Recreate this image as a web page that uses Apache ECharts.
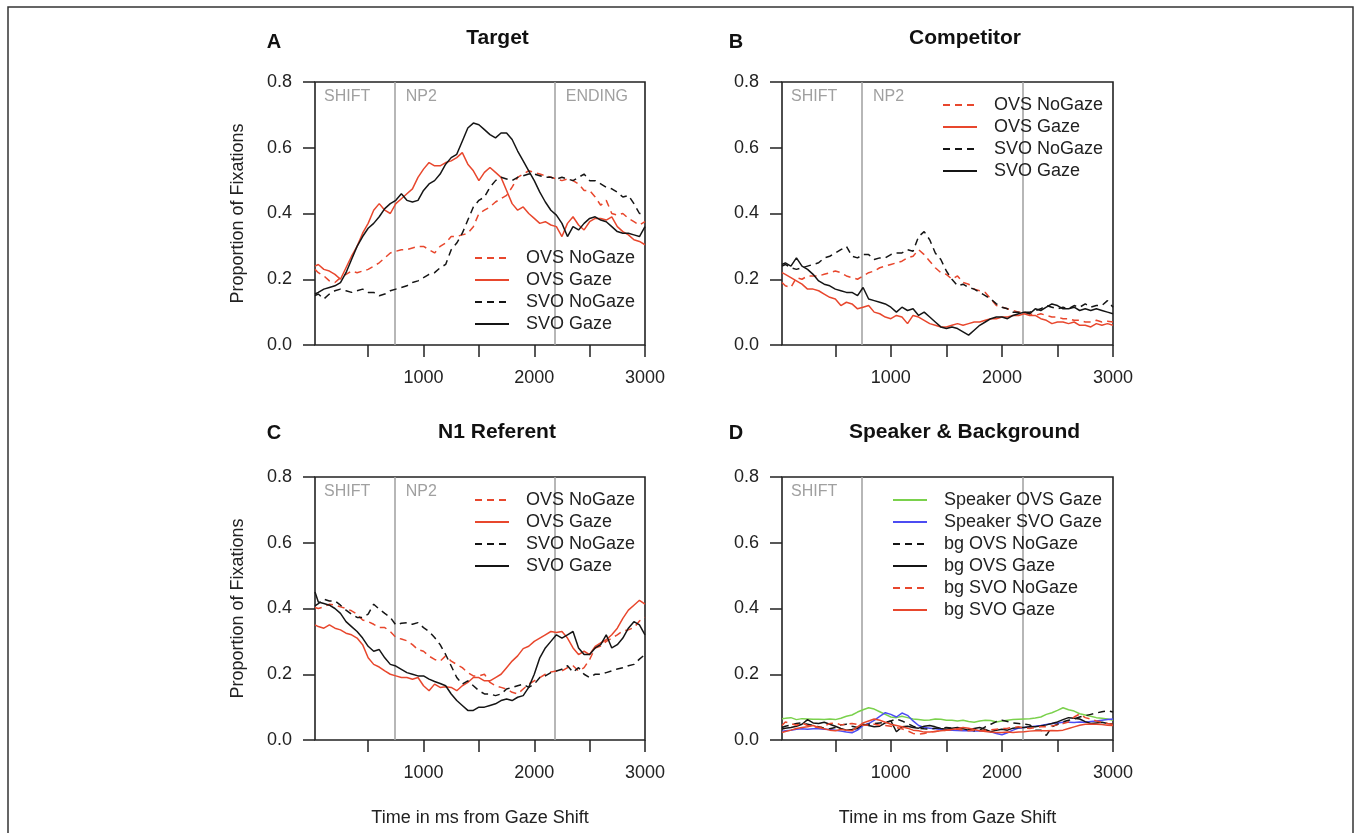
<!DOCTYPE html>
<html><head><meta charset="utf-8">
<script src="https://cdn.jsdelivr.net/npm/echarts@6/dist/echarts.min.js"></script>
<style>html,body{margin:0;padding:0;background:#fff}#c{width:1356px;height:833px}</style>
</head><body><div id="c"></div><script>
// ---- data ----
const times = [20,50,100,150,200,250,300,350,400,450,500,550,600,650,700,750,800,850,900,950,1000,1050,1100,1150,1200,1250,1300,1350,1400,1450,1500,1550,1600,1650,1700,1750,1800,1850,1900,1950,2000,2050,2100,2150,2200,2250,2300,2350,2400,2450,2500,2550,2600,2650,2700,2750,2800,2850,2900,2950,3000];

// Panel A: Target
const A_ovsNoGaze = [0.23,0.22,0.21,0.195,0.19,0.205,0.215,0.225,0.22,0.225,0.23,0.24,0.25,0.265,0.28,0.285,0.29,0.29,0.295,0.30,0.30,0.29,0.28,0.30,0.31,0.33,0.33,0.335,0.34,0.36,0.40,0.41,0.42,0.435,0.445,0.455,0.48,0.51,0.52,0.53,0.525,0.52,0.515,0.51,0.505,0.50,0.505,0.50,0.49,0.47,0.47,0.45,0.425,0.44,0.40,0.395,0.40,0.385,0.375,0.365,0.375];
const A_ovsGaze = [0.24,0.245,0.23,0.225,0.215,0.2,0.235,0.27,0.3,0.34,0.37,0.41,0.43,0.41,0.40,0.43,0.445,0.46,0.475,0.51,0.535,0.555,0.545,0.545,0.555,0.56,0.57,0.585,0.55,0.53,0.50,0.525,0.54,0.525,0.51,0.47,0.43,0.41,0.42,0.40,0.385,0.37,0.375,0.365,0.36,0.33,0.37,0.39,0.365,0.35,0.375,0.385,0.385,0.38,0.39,0.36,0.345,0.335,0.32,0.315,0.305];
const A_svoNoGaze = [0.15,0.155,0.14,0.155,0.165,0.17,0.165,0.16,0.165,0.17,0.16,0.16,0.15,0.155,0.165,0.17,0.175,0.18,0.19,0.195,0.205,0.215,0.22,0.235,0.245,0.29,0.31,0.34,0.38,0.42,0.44,0.45,0.48,0.50,0.51,0.505,0.50,0.51,0.515,0.52,0.52,0.515,0.51,0.51,0.505,0.51,0.505,0.50,0.51,0.52,0.50,0.50,0.49,0.48,0.475,0.465,0.45,0.455,0.43,0.40,0.40];
const A_svoGaze = [0.155,0.16,0.17,0.175,0.18,0.19,0.22,0.26,0.30,0.33,0.355,0.37,0.39,0.415,0.43,0.44,0.46,0.44,0.435,0.44,0.47,0.49,0.50,0.52,0.55,0.57,0.58,0.62,0.66,0.675,0.67,0.655,0.64,0.63,0.645,0.645,0.625,0.59,0.56,0.53,0.50,0.465,0.435,0.41,0.395,0.37,0.33,0.36,0.35,0.37,0.385,0.39,0.38,0.375,0.36,0.345,0.34,0.34,0.335,0.33,0.36];

// Panel B: Competitor
const B_ovsNoGaze = [0.19,0.18,0.175,0.205,0.2,0.21,0.21,0.21,0.215,0.22,0.225,0.22,0.21,0.205,0.2,0.21,0.22,0.225,0.235,0.24,0.245,0.25,0.255,0.265,0.27,0.29,0.275,0.255,0.235,0.22,0.215,0.2,0.21,0.19,0.185,0.17,0.165,0.16,0.14,0.12,0.115,0.11,0.105,0.1,0.1,0.095,0.09,0.095,0.09,0.085,0.085,0.08,0.08,0.075,0.075,0.07,0.07,0.075,0.07,0.072,0.07];
const B_ovsGaze = [0.22,0.215,0.205,0.195,0.185,0.17,0.17,0.165,0.155,0.145,0.14,0.12,0.13,0.125,0.11,0.115,0.12,0.1,0.095,0.085,0.08,0.09,0.085,0.065,0.09,0.085,0.075,0.065,0.06,0.055,0.055,0.06,0.065,0.06,0.065,0.07,0.07,0.075,0.08,0.08,0.085,0.085,0.09,0.09,0.095,0.09,0.09,0.08,0.075,0.065,0.07,0.07,0.065,0.07,0.06,0.06,0.055,0.065,0.06,0.065,0.06];
const B_svoNoGaze = [0.24,0.245,0.235,0.23,0.235,0.24,0.245,0.25,0.265,0.27,0.28,0.29,0.3,0.27,0.265,0.275,0.275,0.26,0.265,0.265,0.275,0.28,0.28,0.29,0.285,0.33,0.345,0.32,0.28,0.26,0.225,0.2,0.18,0.185,0.175,0.17,0.16,0.15,0.14,0.125,0.115,0.11,0.1,0.1,0.1,0.1,0.105,0.11,0.12,0.115,0.11,0.115,0.11,0.12,0.115,0.125,0.115,0.12,0.12,0.135,0.115];
const B_svoGaze = [0.245,0.25,0.24,0.265,0.24,0.23,0.215,0.195,0.185,0.18,0.17,0.165,0.16,0.16,0.15,0.175,0.14,0.135,0.13,0.125,0.115,0.1,0.115,0.105,0.11,0.09,0.1,0.085,0.07,0.055,0.05,0.055,0.05,0.04,0.03,0.045,0.06,0.07,0.08,0.085,0.085,0.08,0.09,0.095,0.1,0.095,0.11,0.105,0.115,0.125,0.12,0.11,0.11,0.115,0.105,0.11,0.105,0.11,0.105,0.1,0.095];

// Panel C: N1 Referent
const C_ovsNoGaze = [0.403,0.40,0.405,0.413,0.41,0.405,0.40,0.393,0.383,0.365,0.36,0.352,0.342,0.342,0.33,0.312,0.307,0.302,0.29,0.275,0.27,0.255,0.245,0.24,0.256,0.24,0.23,0.22,0.205,0.195,0.195,0.2,0.175,0.165,0.16,0.155,0.145,0.14,0.155,0.17,0.18,0.19,0.2,0.207,0.21,0.21,0.22,0.226,0.21,0.22,0.245,0.28,0.286,0.3,0.31,0.32,0.332,0.335,0.342,0.362,0.373];
const C_ovsGaze = [0.35,0.345,0.34,0.35,0.34,0.335,0.325,0.32,0.31,0.29,0.25,0.23,0.222,0.21,0.2,0.195,0.19,0.19,0.185,0.19,0.165,0.15,0.17,0.16,0.162,0.16,0.15,0.165,0.175,0.19,0.19,0.18,0.18,0.19,0.2,0.22,0.24,0.256,0.278,0.285,0.3,0.31,0.32,0.33,0.327,0.33,0.31,0.28,0.26,0.27,0.26,0.285,0.295,0.305,0.32,0.34,0.37,0.395,0.41,0.425,0.413];
const C_svoNoGaze = [0.408,0.415,0.428,0.423,0.423,0.41,0.395,0.383,0.373,0.373,0.383,0.413,0.398,0.385,0.373,0.35,0.355,0.357,0.352,0.357,0.342,0.33,0.312,0.29,0.26,0.225,0.19,0.17,0.18,0.165,0.15,0.14,0.14,0.135,0.14,0.155,0.16,0.165,0.17,0.16,0.17,0.19,0.195,0.205,0.21,0.215,0.226,0.206,0.22,0.2,0.19,0.2,0.2,0.205,0.21,0.216,0.22,0.226,0.23,0.246,0.26];
const C_svoGaze = [0.45,0.42,0.415,0.41,0.40,0.385,0.36,0.345,0.33,0.31,0.285,0.27,0.275,0.25,0.23,0.225,0.215,0.205,0.2,0.195,0.195,0.185,0.178,0.172,0.165,0.14,0.12,0.105,0.09,0.09,0.1,0.1,0.105,0.11,0.12,0.125,0.12,0.13,0.135,0.16,0.2,0.25,0.28,0.30,0.32,0.31,0.32,0.33,0.28,0.26,0.26,0.28,0.29,0.32,0.28,0.29,0.31,0.34,0.36,0.35,0.32];

// Panel D: Speaker & Background
const D_spkOvsGaze = [0.065,0.066,0.068,0.062,0.065,0.064,0.063,0.063,0.062,0.064,0.062,0.066,0.072,0.076,0.085,0.092,0.098,0.094,0.086,0.078,0.07,0.068,0.072,0.068,0.064,0.062,0.06,0.061,0.064,0.063,0.06,0.06,0.058,0.06,0.056,0.054,0.058,0.06,0.059,0.055,0.058,0.06,0.062,0.063,0.064,0.065,0.067,0.07,0.078,0.083,0.09,0.098,0.092,0.088,0.08,0.076,0.072,0.068,0.066,0.064,0.06];
const D_spkSvoGaze = [0.026,0.028,0.03,0.033,0.034,0.033,0.034,0.034,0.033,0.032,0.03,0.027,0.024,0.022,0.03,0.044,0.05,0.06,0.072,0.083,0.078,0.07,0.082,0.075,0.058,0.044,0.038,0.036,0.034,0.032,0.03,0.03,0.029,0.028,0.028,0.027,0.028,0.027,0.025,0.02,0.016,0.022,0.03,0.036,0.038,0.04,0.042,0.044,0.047,0.05,0.052,0.054,0.054,0.053,0.055,0.054,0.056,0.058,0.06,0.062,0.064];
const D_bgOvsNoGaze = [0.038,0.042,0.046,0.05,0.052,0.048,0.044,0.04,0.036,0.034,0.038,0.046,0.048,0.042,0.038,0.045,0.048,0.05,0.052,0.054,0.058,0.064,0.058,0.05,0.042,0.036,0.034,0.033,0.036,0.037,0.038,0.036,0.034,0.035,0.033,0.028,0.03,0.04,0.048,0.056,0.06,0.056,0.052,0.05,0.048,0.046,0.03,0.03,0.014,0.04,0.048,0.055,0.06,0.064,0.07,0.074,0.078,0.082,0.086,0.089,0.085];
const D_bgOvsGaze = [0.033,0.036,0.038,0.042,0.048,0.062,0.052,0.05,0.054,0.048,0.042,0.035,0.03,0.032,0.035,0.048,0.044,0.04,0.042,0.052,0.058,0.025,0.04,0.042,0.038,0.036,0.042,0.044,0.04,0.035,0.033,0.036,0.038,0.034,0.03,0.035,0.038,0.032,0.025,0.03,0.033,0.03,0.036,0.038,0.038,0.04,0.04,0.043,0.046,0.05,0.055,0.062,0.068,0.066,0.064,0.056,0.05,0.052,0.054,0.05,0.049];
const D_bgSvoNoGaze = [0.044,0.055,0.05,0.045,0.052,0.044,0.04,0.038,0.042,0.05,0.052,0.046,0.048,0.05,0.047,0.045,0.046,0.048,0.045,0.044,0.042,0.038,0.034,0.028,0.02,0.018,0.02,0.024,0.026,0.028,0.03,0.032,0.033,0.03,0.028,0.03,0.028,0.03,0.031,0.033,0.035,0.036,0.038,0.04,0.036,0.035,0.038,0.04,0.04,0.043,0.046,0.05,0.055,0.07,0.079,0.068,0.064,0.058,0.054,0.05,0.048];
const D_bgSvoGaze = [0.023,0.026,0.03,0.035,0.038,0.04,0.044,0.038,0.034,0.03,0.028,0.032,0.03,0.028,0.04,0.052,0.058,0.064,0.06,0.054,0.048,0.044,0.04,0.036,0.03,0.028,0.024,0.024,0.026,0.028,0.03,0.032,0.034,0.038,0.036,0.032,0.028,0.026,0.024,0.023,0.023,0.024,0.023,0.024,0.025,0.027,0.028,0.028,0.028,0.029,0.028,0.03,0.035,0.04,0.045,0.048,0.049,0.048,0.047,0.045,0.044];

const phaseBounds = [740, 2185];
const phaseStarts = [20, 740, 2185];
const phaseNames = ['SHIFT', 'NP2', 'ENDING'];
const xTicks = [500, 1000, 1500, 2000, 2500, 3000];
const xTickLabels = [1000, 2000, 3000];
const panelTitles = ['Target', 'Competitor', 'N1 Referent', 'Speaker & Background'];
const panelLetters = ['A', 'B', 'C', 'D'];
const yName = 'Proportion of Fixations';
const xName = 'Time in ms from Gaze Shift';

// ---- styling ----
const FONT = "'Liberation Sans', Arial, Helvetica, sans-serif";
const RED = '#e8472d', BLACK = '#151515', GREEN = '#7ad14c', BLUE = '#4c4cf2', GRAY = '#a5a5a5', INK = '#222';
const DASH = [7, 5];

const panels = [
  { grid: {left: 315, top: 82, width: 330, height: 263}, legend: {left: 474, top: 249}, nPhase: 3,
    series: [['OVS NoGaze', A_ovsNoGaze, RED, true], ['OVS Gaze', A_ovsGaze, RED, false], ['SVO NoGaze', A_svoNoGaze, BLACK, true], ['SVO Gaze', A_svoGaze, BLACK, false]] },
  { grid: {left: 782, top: 82, width: 331, height: 263}, legend: {left: 942, top: 96}, nPhase: 2,
    series: [['OVS NoGaze', B_ovsNoGaze, RED, true], ['OVS Gaze', B_ovsGaze, RED, false], ['SVO NoGaze', B_svoNoGaze, BLACK, true], ['SVO Gaze', B_svoGaze, BLACK, false]] },
  { grid: {left: 315, top: 477, width: 330, height: 263}, legend: {left: 474, top: 491}, nPhase: 2,
    series: [['OVS NoGaze', C_ovsNoGaze, RED, true], ['OVS Gaze', C_ovsGaze, RED, false], ['SVO NoGaze', C_svoNoGaze, BLACK, true], ['SVO Gaze', C_svoGaze, BLACK, false]] },
  { grid: {left: 782, top: 477, width: 331, height: 263}, legend: {left: 892, top: 491}, nPhase: 1,
    series: [['Speaker OVS Gaze', D_spkOvsGaze, GREEN, false], ['Speaker SVO Gaze', D_spkSvoGaze, BLUE, false], ['bg OVS NoGaze', D_bgOvsNoGaze, BLACK, true], ['bg OVS Gaze', D_bgOvsGaze, BLACK, false], ['bg SVO NoGaze', D_bgSvoNoGaze, RED, true], ['bg SVO Gaze', D_bgSvoGaze, RED, false]] }
];

const grid = [], xAxis = [], yAxis = [], legend = [], series = [];
panels.forEach((p, i) => {
  grid.push(Object.assign({show: true, borderColor: INK, borderWidth: 1.6, backgroundColor: 'transparent'}, p.grid));
  xAxis.push({
    type: 'value', gridIndex: i, min: 20, max: 3000,
    axisLine: {show: false}, splitLine: {show: false},
    axisTick: {show: true, length: 12, customValues: xTicks, lineStyle: {color: INK, width: 1.5}},
    axisLabel: {customValues: xTickLabels, formatter: v => String(v), margin: 24, fontSize: 18, color: INK, fontFamily: FONT}
  });
  yAxis.push({
    type: 'value', gridIndex: i, min: 0, max: 0.8, interval: 0.2,
    axisLine: {show: false}, splitLine: {show: false},
    axisTick: {show: true, length: 12, lineStyle: {color: INK, width: 1.5}},
    axisLabel: {formatter: v => v.toFixed(1), margin: 23, fontSize: 18, color: INK, fontFamily: FONT}
  });
  legend.push({
    orient: 'vertical', left: p.legend.left, top: p.legend.top, itemWidth: 34, itemHeight: 14, itemGap: 4,
    padding: 0, selectedMode: false, data: p.series.map(s => s[0]),
    itemStyle: {opacity: 0},
    textStyle: {fontSize: 18, color: INK, fontFamily: FONT, lineHeight: 18, padding: [0, 0, 0, 12]}
  });
  p.series.forEach((s, k) => {
    const ser = {
      type: 'line', name: s[0], xAxisIndex: i, yAxisIndex: i,
      data: times.map((t, j) => [t, s[1][j]]),
      symbol: 'none', showSymbol: false, animation: false,
      lineStyle: {color: s[2], width: 1.5, type: s[3] ? DASH : 'solid'},
      itemStyle: {color: s[2]}, z: 3
    };
    if (k === 0) {
      ser.markLine = {
        silent: true, symbol: 'none', animation: false, label: {show: false},
        lineStyle: {color: GRAY, width: 1.6, type: 'solid'},
        data: phaseBounds.map(b => ({xAxis: b})), z: 1
      };
    }
    series.push(ser);
  });
});

const chart = echarts.init(document.getElementById('c'), null, {renderer: 'canvas'});
chart.setOption({animation: false, backgroundColor: '#fff', grid, xAxis, yAxis, legend, series});

// ---- annotations (text) ----
const g = [];
g.push({type: 'rect', shape: {x: 8, y: 7, width: 1345, height: 860}, style: {fill: 'none', stroke: '#333', lineWidth: 1.5}, silent: true, z: 0});
const letterPos = [[274, 42.5], [736, 42.5], [274, 433], [736, 433]];
const titlePos = [[497.5, 38.5], [965, 38.5], [497, 432.5], [964.5, 432.5]];
panels.forEach((p, i) => {
  g.push({type: 'text', x: letterPos[i][0], y: letterPos[i][1], style: {text: panelLetters[i], fontSize: 20, fontWeight: 'bold', fontFamily: FONT, fill: '#111', align: 'center', verticalAlign: 'middle'}});
  g.push({type: 'text', x: titlePos[i][0], y: titlePos[i][1], style: {text: panelTitles[i], fontSize: 21, fontWeight: 'bold', fontFamily: FONT, fill: '#111', align: 'center', verticalAlign: 'middle'}});
  for (let k = 0; k < p.nPhase; k++) {
    const pt = chart.convertToPixel({gridIndex: i}, [phaseStarts[k], 0.8]);
    g.push({type: 'text', x: pt[0] + (k === 0 ? 9 : 11), y: pt[1] + 15, style: {text: phaseNames[k], fontSize: 16, fontFamily: FONT, fill: '#a0a0a0', align: 'left', verticalAlign: 'middle'}});
  }
});
[[238, 213.5], [238, 608.5]].forEach(pos => {
  g.push({type: 'text', x: pos[0], y: pos[1], rotation: Math.PI / 2, style: {text: yName, fontSize: 18, fontFamily: FONT, fill: INK, align: 'center', verticalAlign: 'middle'}});
});
[[480, 818], [947.5, 818]].forEach(pos => {
  g.push({type: 'text', x: pos[0], y: pos[1], style: {text: xName, fontSize: 18, fontFamily: FONT, fill: INK, align: 'center', verticalAlign: 'middle'}});
});
chart.setOption({graphic: g});
</script></body></html>
